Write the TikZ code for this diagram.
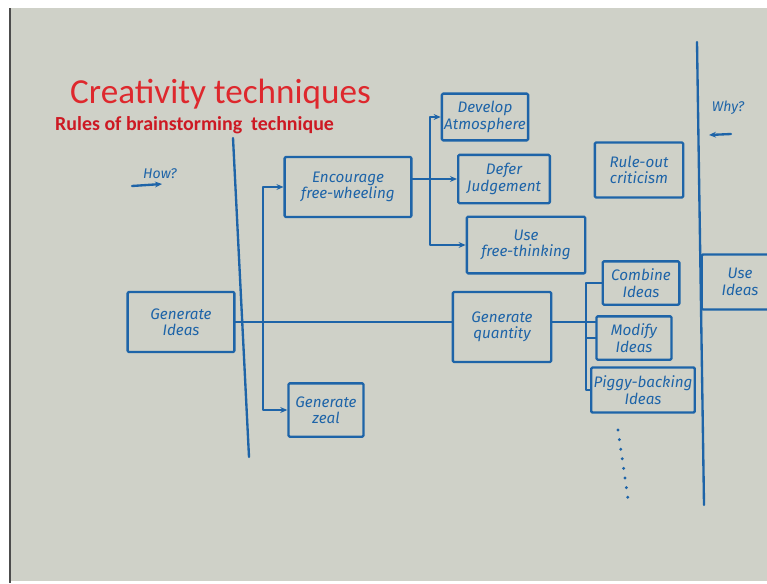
\documentclass[tikz,border=0pt]{standalone}
\usepackage{fontspec}
\setmainfont{Carlito}
\newfontfamily\handfont{Fira Sans}
\usetikzlibrary{arrows.meta,positioning}
\definecolor{slidebg}{RGB}{207,209,200}
\definecolor{inkblue}{RGB}{30,100,168}
\definecolor{titlered}{RGB}{222,40,45}
\definecolor{subred}{RGB}{205,25,35}

\begin{document}
\begin{tikzpicture}[
    x=0.03cm, y=-0.03cm,
    ink/.style={draw=inkblue, line width=2pt, line cap=round, line join=round},
    idea/.style={ink, rounded corners=1pt, align=center, text=inkblue, font=\handfont\itshape\fontsize{13}{14}\selectfont, inner sep=2pt},
    arr/.style={ink, -{Stealth[length=6pt, width=5pt]}},
    note/.style={text=inkblue, font=\handfont\itshape\fontsize{12}{13}\selectfont, inner sep=1pt},
]
\useasboundingbox (0,0) rectangle (767,583);
\fill[white] (0,0) rectangle (767,583);
\fill[slidebg] (10,8) rectangle (767,581);
\draw[black!70, line width=2pt] (10,8) -- (10,583);

\node[anchor=base west, inner sep=0pt, text=titlered, font=\fontsize{30}{32}\selectfont] (title) at (70,103) {Creativity techniques};
\node[anchor=base west, inner sep=0pt, text=subred, font=\bfseries\fontsize{17}{18}\selectfont] (subtitle) at (55,130) {Rules of brainstorming\ \ technique};

\node[note] (how) at (160,174) {How?};
\node[note] (why) at (728,108) {Why?};
\coordinate (howtail) at (132,186);
\coordinate (howtip) at (162,184);
\coordinate (whytail) at (731,134);
\coordinate (whytip) at (709,135);
\draw[arr] (howtail) -- (howtip);
\draw[arr] (whytail) -- (whytip);

\coordinate (lefttop) at (233,138);
\coordinate (leftbot) at (249,457);
\coordinate (righttop) at (697,42);
\coordinate (rightbot) at (704,505);
\draw[ink] (lefttop) -- (leftbot);
\draw[ink] (righttop) -- (rightbot);

\node[idea, minimum width=3.2cm, minimum height=1.8cm] (gen) at (181,322) {Generate\\Ideas};
\node[idea, minimum width=3.8cm, minimum height=1.8cm] (enc) at (348,187) {Encourage\\free-wheeling};
\node[idea, minimum width=2.55cm, minimum height=1.4cm] (dev) at (485,117) {Develop\\Atmosphere};
\node[idea, minimum width=2.75cm, minimum height=1.45cm] (defer) at (504,179) {Defer\\Judgement};
\node[idea, minimum width=3.55cm, minimum height=1.7cm] (usefree) at (526,245) {Use\\free-thinking};
\node[idea, minimum width=2.65cm, minimum height=1.65cm] (rule) at (639,170) {Rule-out\\criticism};
\node[idea, minimum width=2.95cm, minimum height=2.1cm] (quant) at (502,327) {Generate\\quantity};
\node[idea, minimum width=2.25cm, minimum height=1.6cm] (zeal) at (326,410) {Generate\\zeal};
\node[idea, minimum width=2.3cm, minimum height=1.3cm] (comb) at (641,283) {Combine\\Ideas};
\node[idea, minimum width=2.25cm, minimum height=1.3cm] (mod) at (634,338) {Modify\\Ideas};
\node[idea, minimum width=2.95cm, minimum height=1.35cm] (pig) at (643,390) {Piggy-backing\\Ideas};
\node[idea, minimum width=2.3cm, minimum height=1.65cm] (useid) at (740,282) {Use\\Ideas};

\coordinate (genfork) at (263,322);
\coordinate (encfork) at (430,179);
\coordinate (quantfork) at (586,322);

\draw[ink] (gen.east |- genfork) -- (quant.west |- genfork);
\draw[arr] (genfork) |- (enc.west);
\draw[arr] (genfork) |- (zeal.west);

\draw[arr] (enc.east |- defer.west) -- (defer.west);
\draw[arr] (encfork) |- (dev.west);
\draw[arr] (encfork) |- (usefree.west);

\draw[ink] (quant.east |- quantfork) -- (mod.west |- quantfork);
\draw[ink] (quantfork) |- (comb.west);
\draw[ink] (quantfork) |- (mod.west);
\draw[ink] (quantfork) |- (pig.west);

\foreach \i in {0,...,7}
    \fill[inkblue] (618+\i*1.4, 430+\i*9.6) circle (1.4pt);
\end{tikzpicture}
\end{document}
